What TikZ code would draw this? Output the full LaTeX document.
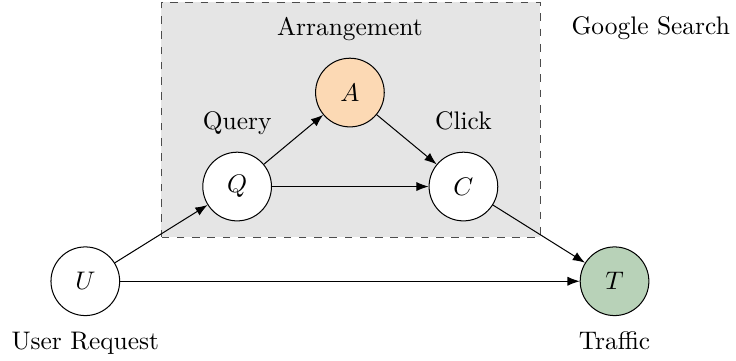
\documentclass[tikz,border=0pt]{standalone}
\usetikzlibrary{positioning, arrows.meta}

\definecolor{peach}{RGB}{252,217,180}
\definecolor{sage}{RGB}{184,210,184}

\begin{document}
\begin{tikzpicture}[auto, node distance = 3.13cm, on grid,%
	var/.style={circle, draw, fill=white, minimum size = 0.95cm, inner sep=0pt},
	caption/.style={inner sep=1pt, text height=1.6ex, text depth=.4ex}]
	\useasboundingbox (0,0) rectangle (10.18,4.98);
	% search box
	\draw[dashed, draw=black!70, fill=black!10] (2.23,1.70) rectangle (7.47,4.95);

	\node[var] (U) at (1.18,1.09) {$U$};
	\node[var] (Q) [above right = 1.31cm and 2.10cm of U] {$Q$};
	\node[var, fill=peach] (A) [above right = 1.30cm and 1.56cm of Q] {$A$};
	\node[var] (C) [right of = Q] {$C$};
	\node[var, fill=sage] (T) [below right = 1.31cm and 2.09cm of C] {$T$};

	\node[caption] (arr) [above = 0.88cm of A] {Arrangement};
	\node[caption] (qry) [above = 0.88cm of Q] {Query};
	\node[caption] (clk) [above = 0.88cm of C] {Click};
	\node[caption] (usr) [below = 0.86cm of U] {User Request};
	\node[caption] (trf) [below = 0.86cm of T] {Traffic};
	\node[caption] (ggl) at (9.0,4.59) {Google Search};

	\path[-{Latex}]
	(U) edge (Q)
		edge (T)
	(Q) edge (A)
		edge (C)
	(A) edge (C)
	(C) edge (T);
\end{tikzpicture}
\end{document}
